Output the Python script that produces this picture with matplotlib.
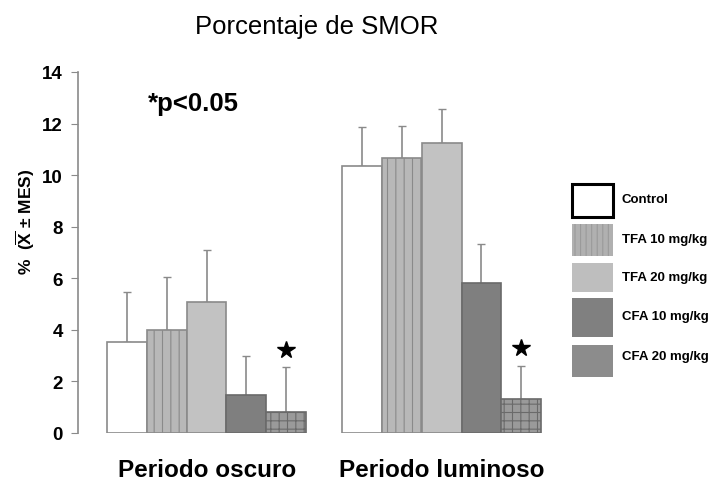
import matplotlib
matplotlib.use("Agg")
import matplotlib.pyplot as plt
import numpy as np
from matplotlib.patches import Rectangle

plt.rcParams['font.family'] = ['Liberation Sans', 'DejaVu Sans']
plt.rcParams['hatch.linewidth'] = 0.8
plt.rcParams['mathtext.fontset'] = 'custom'
plt.rcParams['mathtext.bf'] = 'Liberation Sans:bold'
plt.rcParams['mathtext.rm'] = 'Liberation Sans'

periods = ["Periodo oscuro", "Periodo luminoso"]
series = ["Control", "TFA 10 mg/kg", "TFA 20 mg/kg", "CFA 10 mg/kg", "CFA 20 mg/kg"]
means = {
    "Control":      [3.53, 10.35],
    "TFA 10 mg/kg": [4.00, 10.66],
    "TFA 20 mg/kg": [5.08, 11.24],
    "CFA 10 mg/kg": [1.47, 5.81],
    "CFA 20 mg/kg": [0.81, 1.32],
}
errors = {
    "Control":      [1.94, 1.51],
    "TFA 10 mg/kg": [2.05, 1.24],
    "TFA 20 mg/kg": [2.02, 1.32],
    "CFA 10 mg/kg": [1.51, 1.51],
    "CFA 20 mg/kg": [1.74, 1.28],
}
significant = {"CFA 20 mg/kg": [True, True]}
yticks = [0, 2, 4, 6, 8, 10, 12, 14]

styles = {
    "Control":      dict(facecolor="white", hatch=None, edgecolor="#8a8a8a"),
    "TFA 10 mg/kg": dict(facecolor="#b8b8b8", hatch="||", edgecolor="#8a8a8a"),
    "TFA 20 mg/kg": dict(facecolor="#c2c2c2", hatch=None, edgecolor="#8a8a8a"),
    "CFA 10 mg/kg": dict(facecolor="#7f7f7f", hatch=None, edgecolor="#6a6a6a"),
    "CFA 20 mg/kg": dict(facecolor="#9a9a9a", hatch="++", edgecolor="#6a6a6a"),
}

fig = plt.figure(figsize=(7.12, 4.85), dpi=100)
ax = fig.add_axes([78/712, 1-434/485, (560-78)/712, (434-73)/485])

gap = 5.92
centers = np.arange(len(periods)) * gap
width = 1.0
n = len(series)
for i, s in enumerate(series):
    xs = centers + (i - (n-1)/2) * width
    st = styles[s]
    ax.bar(xs, means[s], width=width, facecolor=st["facecolor"], edgecolor=st["edgecolor"],
           hatch=st["hatch"], linewidth=1.2, zorder=2)
    ax.errorbar(xs, means[s], yerr=[np.zeros(len(xs)), errors[s]], fmt='none',
                ecolor="#8a8a8a", elinewidth=1.2, capsize=3, capthick=1.0, zorder=1)
    if s in significant:
        for x, m, e, sig in zip(xs, means[s], errors[s], significant[s]):
            if sig:
                ax.plot([x], [m + e + 0.68], marker="*", markersize=13, color="black",
                        linestyle="none", zorder=3)

ax.set_xlim(-3.24, 8.9)
ax.set_ylim(0, 14)
ax.set_yticks(yticks)
ax.set_yticklabels([str(t) for t in yticks], fontsize=13.5, fontweight="bold")
ax.tick_params(axis="y", direction="out", length=5, color="#8a8a8a", pad=6)
ax.set_xticks(centers)
ax.set_xticklabels(periods, fontsize=17.5, fontweight="bold")
ax.tick_params(axis="x", length=0, pad=18)
for sp in ["top", "right", "bottom"]:
    ax.spines[sp].set_visible(False)
ax.spines["left"].set_color("#8a8a8a")
ax.spines["left"].set_linewidth(1.2)

fig.text(25/712, 1-222/485, r"%  ($\overline{\mathbf{X}}$ $\mathbf{\pm}$ MES)", fontsize=12.5,
         fontweight="bold", rotation=90, ha="center", va="center")

fig.text(317/712, 1-27/485, "Porcentaje de SMOR", ha="center", va="center", fontsize=18.5)
fig.text(148/712, 1-104/485, "*p<0.05", ha="left", va="center", fontsize=18.5, fontweight="bold")

# legend
boxes = [(185, 218), (225, 257), (264, 293), (299, 338), (346, 378)]
text_y = [200, 240, 278, 317, 357]
legend_face = {
    "Control": "white", "TFA 10 mg/kg": "#b0b0b0", "TFA 20 mg/kg": "#bebebe",
    "CFA 10 mg/kg": "#808080", "CFA 20 mg/kg": "#8c8c8c",
}
for s, (y0, y1), yc in zip(series, boxes, text_y):
    if s == "Control":
        ec, lw = "black", 2.2
    else:
        ec, lw = "#9a9a9a", 0
    r = Rectangle((572/712, 1-y1/485), 41/712, (y1-y0)/485, transform=fig.transFigure,
                  facecolor=legend_face[s], edgecolor=ec,
                  hatch=("|||" if s in ("TFA 10 mg/kg",) else None), linewidth=lw)
    fig.patches.append(r)
    fig.text(622/712, 1-yc/485, s, ha="left", va="center", fontsize=9.5, fontweight="bold")

fig.savefig("out.png", dpi=100)
